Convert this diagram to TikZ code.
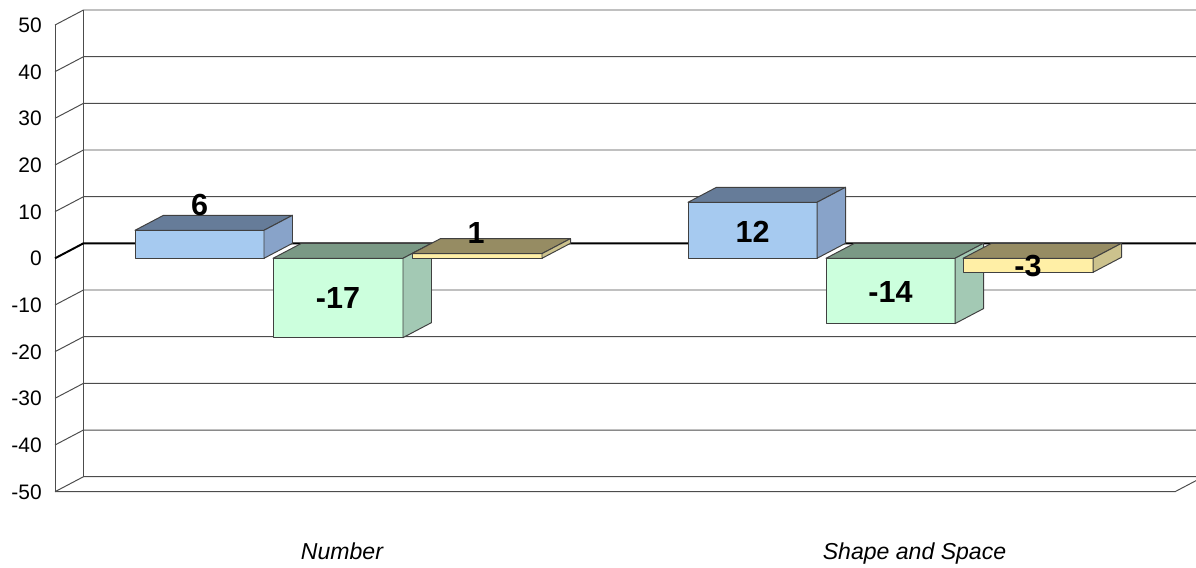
\documentclass[tikz,border=0pt]{standalone}
\usepackage{fontspec}
\setmainfont{Liberation Sans}
\definecolor{bluefront}{RGB}{166,202,240}
\definecolor{bluetop}{RGB}{102,124,153}
\definecolor{blueside}{RGB}{136,163,201}
\definecolor{greenfront}{RGB}{204,255,221}
\definecolor{greentop}{RGB}{122,153,133}
\definecolor{greenside}{RGB}{163,201,180}
\definecolor{tanfront}{RGB}{255,239,166}
\definecolor{tantop}{RGB}{150,140,99}
\definecolor{tanside}{RGB}{204,194,141}
\begin{document}
\begin{tikzpicture}[x=0.025cm,y=-0.025cm,
    grid/.style={black!70,line width=0.7pt},
    zero/.style={black,line width=1.4pt},
    face/.style={draw=black!75,line width=0.7pt,line join=round},
    tick/.style={anchor=base east,inner sep=0pt,font=\fontsize{14.9}{17}\selectfont},
    value/.style={anchor=base,inner sep=0pt,font=\bfseries\fontsize{21.7}{26}\selectfont},
    category/.style={anchor=base,inner sep=0pt,font=\itshape\fontsize{16.4}{20}\selectfont}]
  \useasboundingbox (0,0) rectangle (1196,567);
  \clip (0,0) rectangle (1196,567);
  \begin{scope}[grid]
    \draw (55,25) -- (83.5,10) -- (1203.5,10);
    \draw (55,71.7) -- (83.5,56.7) -- (1203.5,56.7);
    \draw (55,118.3) -- (83.5,103.3) -- (1203.5,103.3);
    \draw (55,165) -- (83.5,150) -- (1203.5,150);
    \draw (55,211.7) -- (83.5,196.7) -- (1203.5,196.7);
    \draw (55,305) -- (83.5,290) -- (1203.5,290);
    \draw (55,351.7) -- (83.5,336.7) -- (1203.5,336.7);
    \draw (55,398.3) -- (83.5,383.3) -- (1203.5,383.3);
    \draw (55,445) -- (83.5,430) -- (1203.5,430);
    \draw (55,491.7) -- (83.5,476.7) -- (1203.5,476.7);
    \draw (55,491.7) -- (1175,491.7) -- (1203.5,476.7);
    \draw (55,25) -- (55,491.7);
    \draw (83.5,10) -- (83.5,476.7);
  \end{scope}
  \draw[zero] (55,258.3) -- (83.5,243.3) -- (1203.5,243.3);
  \draw
    (42,32.5) node[tick] (t50){50}
    (42,79.2) node[tick] (t40){40}
    (42,125.8) node[tick] (t30){30}
    (42,172.5) node[tick] (t20){20}
    (42,219.2) node[tick] (t10){10}
    (42,265.8) node[tick] (t0){0}
    (42,312.5) node[tick] (tm10){-10}
    (42,359.2) node[tick] (tm20){-20}
    (42,405.8) node[tick] (tm30){-30}
    (42,452.5) node[tick] (tm40){-40}
    (42,499.2) node[tick] (tm50){-50};
  \begin{scope}[face]
    \filldraw[fill=bluefront] (135,230.3) rectangle (264,258.3);
    \filldraw[fill=bluetop] (135,230.3) -- ++(28.5,-15) -- ++(129,0) -- ++(-28.5,15) -- cycle;
    \filldraw[fill=blueside] (264,230.3) -- ++(28.5,-15) -- ++(0,28) -- ++(-28.5,15) -- cycle;
    \filldraw[fill=greenfront] (273,258.3) rectangle (403,337.6);
    \filldraw[fill=greentop] (273,258.3) -- ++(28.5,-15) -- ++(130,0) -- ++(-28.5,15) -- cycle;
    \filldraw[fill=greenside] (403,258.3) -- ++(28.5,-15) -- ++(0,79.3) -- ++(-28.5,15) -- cycle;
    \filldraw[fill=tanfront] (412,253.6) rectangle (542,258.3);
    \filldraw[fill=tantop] (412,253.6) -- ++(28.5,-15) -- ++(130,0) -- ++(-28.5,15) -- cycle;
    \filldraw[fill=tanside] (542,253.6) -- ++(28.5,-15) -- ++(0,4.7) -- ++(-28.5,15) -- cycle;
    \filldraw[fill=bluefront] (688,202.3) rectangle (817,258.3);
    \filldraw[fill=bluetop] (688,202.3) -- ++(28.5,-15) -- ++(129,0) -- ++(-28.5,15) -- cycle;
    \filldraw[fill=blueside] (817,202.3) -- ++(28.5,-15) -- ++(0,56) -- ++(-28.5,15) -- cycle;
    \filldraw[fill=greenfront] (826,258.3) rectangle (955,323.6);
    \filldraw[fill=greentop] (826,258.3) -- ++(28.5,-15) -- ++(129,0) -- ++(-28.5,15) -- cycle;
    \filldraw[fill=greenside] (955,258.3) -- ++(28.5,-15) -- ++(0,65.3) -- ++(-28.5,15) -- cycle;
    \filldraw[fill=tanfront] (963,258.3) rectangle (1093,272.3);
    \filldraw[fill=tantop] (963,258.3) -- ++(28.5,-15) -- ++(130,0) -- ++(-28.5,15) -- cycle;
    \filldraw[fill=tanside] (1093,258.3) -- ++(28.5,-15) -- ++(0,14) -- ++(-28.5,15) -- cycle;
  \end{scope}
  \draw
    (199.5,215) node[value] (number6){6}
    (338,308) node[value] (number17){-17}
    (476,243) node[value] (number1){1}
    (752.5,242) node[value] (shape12){12}
    (890.5,302) node[value] (shape14){-14}
    (1028,276) node[value] (shape3){-3}
    (342,559) node[category] (number){Number}
    (914.5,559) node[category] (shape){Shape and Space};
\end{tikzpicture}
\end{document}
